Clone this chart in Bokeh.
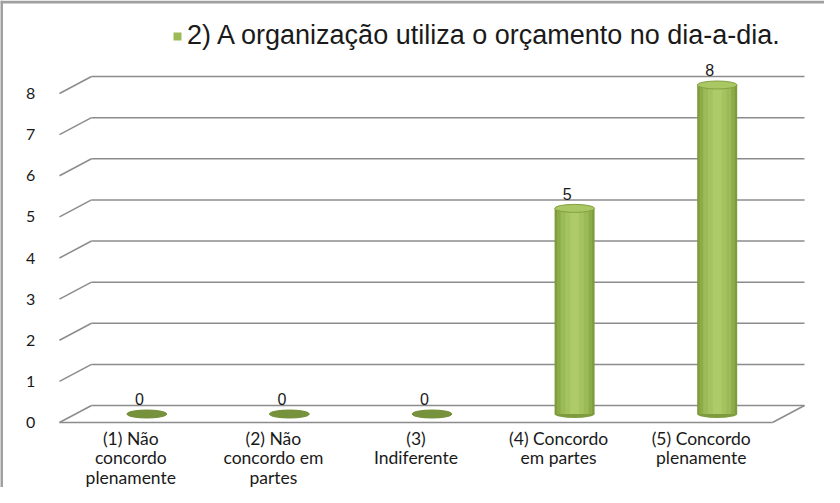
from bokeh.plotting import figure
from bokeh.models import (ColumnDataSource, Range1d, Span, Legend, LegendItem)
from bokeh.core.properties import value
from bokeh.embed import file_html
from bokeh.resources import INLINE

# ---------------- data ----------------
categories = ["(1) Não\nconcordo\nplenamente",
              "(2) Não\nconcordo em\npartes",
              "(3)\nIndiferente",
              "(4) Concordo\nem partes",
              "(5) Concordo\nplenamente"]
values = [0, 0, 0, 5, 8]
y_ticks = [0, 1, 2, 3, 4, 5, 6, 7, 8]
series_name = "2) A organização utiliza o orçamento no dia-a-dia."

# ---------------- geometry (3-D look) ----------------
DX = 0.2244      # depth offset of back wall, x units
DY = 0.413       # depth offset of back wall, value units
MX = DX / 2      # bars sit at mid depth
MY = DY / 2
BAR_W = 0.2805
ELL_H = 0.195

n = len(categories)
xs = list(range(n))

p = figure(width=824, height=487, output_backend="svg", toolbar_location=None,
           x_range=Range1d(-0.9137, 4.8647), y_range=Range1d(-1.5805, 10.2614),
           x_axis_location=None, y_axis_location=None, min_border=0,
           outline_line_color=None, background_fill_color="white",
           border_fill_color="white")
p.grid.visible = False

grid_col = "#8c8c8c"
# back wall gridlines + slanted side lines
g = ColumnDataSource(dict(
    t=y_ticks,
    fx=[-0.5] * len(y_ticks),
    bx=[-0.5 + DX] * len(y_ticks),
    ex=[n - 0.5 + DX] * len(y_ticks),
    by=[t + DY for t in y_ticks],
))
p.segment(x0="fx", y0="t", x1="bx", y1="by", source=g, line_color=grid_col, line_width=1.5)
p.segment(x0="bx", y0="by", x1="ex", y1="by", source=g, line_color=grid_col, line_width=1.5)
# floor front edge and right slant
p.segment(x0=[-0.5], y0=[0], x1=[n - 0.5], y1=[0], line_color=grid_col, line_width=1.5)
p.segment(x0=[n - 0.5], y0=[0], x1=[n - 0.5 + DX], y1=[DY], line_color=grid_col, line_width=1.5)

# ---------------- cylinders ----------------
bx = [x + MX for x in xs]
src = ColumnDataSource(dict(
    x=bx, bottom=[MY] * n, top=[v + MY for v in values],
    cap=["#a9c763" if v > 0 else "#76923c" for v in values],
    capline=["#82a141" if v > 0 else "#76923c" for v in values],
))
# bottom rounding
p.ellipse(x="x", y="bottom", width=BAR_W, height=ELL_H, source=src,
          fill_color="#7e9c3e", line_color=None)
layers = [(1.0, "#7e9c3e"), (0.88, "#8cac47"), (0.70, "#9bbb59"),
          (0.46, "#a5c45f"), (0.22, "#adcb69")]
legend_r = None
for frac, col in layers:
    r = p.vbar(x="x", bottom="bottom", top="top", width=BAR_W * frac, source=src,
               fill_color=col, line_color=None)
    if col == "#9bbb59":
        legend_r = r
p.ellipse(x="x", y="top", width=BAR_W, height=ELL_H, source=src,
          fill_color="cap", line_color="capline", line_width=1)

# data labels
lab = ColumnDataSource(dict(x=[x + 0.06 for x in xs], y=[v + MY + 0.36 for v in values],
                            t=[str(v) for v in values]))
p.text(x="x", y="y", text="t", source=lab, text_align="center", text_baseline="middle",
       text_font=value("Liberation Sans"), text_font_size="16px", text_color="#1a1a1a")

# y tick labels (front plane)
tk = ColumnDataSource(dict(x=[-0.703] * len(y_ticks), y=y_ticks, t=[str(t) for t in y_ticks]))
p.text(x="x", y="y", text="t", source=tk, text_align="center", text_baseline="middle",
       text_font=value("Lato"), text_font_size="16px", text_color="#1a1a1a")

# category labels
cl = ColumnDataSource(dict(x=xs, y=[-0.13] * n, t=categories))
p.text(x="x", y="y", text="t", source=cl, text_align="center", text_baseline="top",
       text_font=value("Lato"), text_font_size="17.5px", text_color="#1a1a1a",
       text_line_height=0.93)

# chart border (left and top visible in the reference)
p.add_layout(Span(location=-0.9067, dimension="height", line_color="#a0a0a0", line_width=3))
p.add_layout(Span(location=10.225, dimension="width", line_color="#a0a0a0", line_width=3))

# legend
leg = Legend(items=[LegendItem(label=series_name, renderers=[legend_r])],
             location=(172, 436), orientation="horizontal",
             glyph_width=10, glyph_height=10, label_standoff=5,
             padding=0, margin=0, border_line_color=None, background_fill_alpha=0,
             label_text_font="Liberation Sans", label_text_font_size="27px",
             label_text_color="#1a1a1a")
p.add_layout(leg, "center")

open("out.html", "w").write(file_html(p, INLINE))
